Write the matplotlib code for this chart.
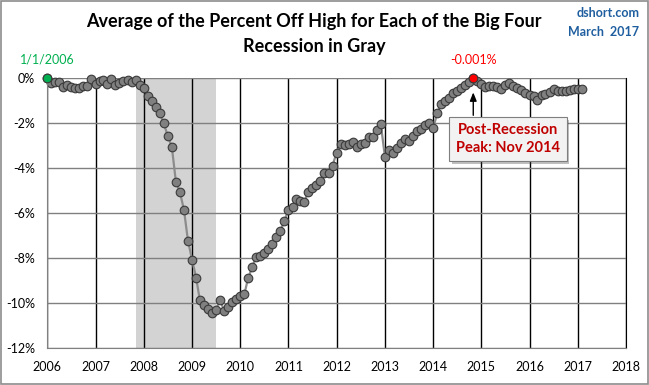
import matplotlib
matplotlib.use("Agg")
import matplotlib.pyplot as plt
import matplotlib.patheffects as pe
from matplotlib.patches import Rectangle
import pandas as pd

# percent off high, monthly averages
v2006 = [0.0, -0.23, -0.18, -0.21, -0.42, -0.33, -0.43, -0.47, -0.46, -0.38, -0.35, -0.05]
v2007 = [-0.26, -0.15, -0.10, -0.29, -0.05, -0.31, -0.23, -0.13, -0.08, -0.18, -0.10, -0.33]
v2008 = [-0.45, -0.83, -1.02, -1.29, -1.58, -2.03, -2.59, -3.07, -4.64, -5.08, -5.88, -7.24]
v2009 = [-8.09, -8.89, -9.89, -10.13, -10.29, -10.47, -10.32, -9.88, -10.37, -10.22, -9.98, -9.84]
v2010 = [-9.69, -9.64, -8.93, -8.43, -7.96, -7.92, -7.80, -7.60, -7.38, -7.07, -6.80, -6.37]
v2011 = [-5.88, -5.73, -5.40, -5.48, -5.51, -5.07, -4.89, -4.77, -4.59, -4.25, -4.25, -3.91]
v2012 = [-3.33, -2.94, -3.01, -2.93, -2.86, -3.09, -2.95, -2.89, -2.64, -2.62, -2.32, -2.07]
v2013 = [-3.52, -3.20, -3.35, -3.14, -2.89, -2.74, -2.81, -2.58, -2.38, -2.30, -2.08, -2.00]
v2014 = [-2.25, -1.58, -1.17, -1.03, -0.88, -0.68, -0.60, -0.45, -0.32, -0.17, -0.001, -0.15]
v2015 = [-0.28, -0.40, -0.37, -0.37, -0.40, -0.50, -0.33, -0.22, -0.37, -0.44, -0.55, -0.66]
v2016 = [-0.78, -0.82, -1.00, -0.75, -0.70, -0.62, -0.51, -0.60, -0.60, -0.60, -0.53, -0.50]
v2017 = [-0.51, -0.48]

start_date = "2006-01-01"
peak_date = "2014-11-01"
recession = ("2007-11-01", "2009-07-01")
year_ticks = list(range(2006, 2019))
y_ticks = [0, -2, -4, -6, -8, -10, -12]

values = v2006 + v2007 + v2008 + v2009 + v2010 + v2011 + v2012 + v2013 + v2014 + v2015 + v2016 + v2017
dates = pd.date_range(start_date, periods=len(values), freq="MS")
series = pd.Series(values, index=dates)

plt.rcParams['font.family'] = ['Lato', 'DejaVu Sans']

fig = plt.figure(figsize=(6.49, 3.85), dpi=100)
ax = fig.add_axes([0.0729, 0.0974, 0.8917, 0.7006])

# recession shading
ax.axvspan(pd.Timestamp(recession[0]), pd.Timestamp(recession[1]), color="#d3d3d3", zorder=0.2, lw=0)

mk = dict(marker="o", markersize=6.2, markeredgecolor="#3a3a3a", markeredgewidth=0.8, clip_on=False)
ax.plot(series.index, series.values, color="#8c8c8c", lw=1.6, zorder=2, markerfacecolor="#808080", **mk)

# first point and peak
ax.plot(series.index[:1], series.values[:1], ls="none", markerfacecolor="#00b050", zorder=3, **mk)
pk = pd.Timestamp(peak_date)
ax.plot([pk], [series[pk]], ls="none", markerfacecolor="#ff0000", zorder=3, **mk)

ax.annotate("1/1/2006", (series.index[0], series.values[0]), xytext=(0, 13), textcoords="offset points",
            ha="center", va="center", color="#00b050", fontsize=9)
ax.annotate("%.3f%%" % series[pk], (pk, series[pk]), xytext=(0, 13), textcoords="offset points",
            ha="center", va="center", color="#ff0000", fontsize=9)

# arrow to peak
ax.annotate("", xy=(pk, series[pk]), xytext=(0, -27), textcoords="offset points",
            arrowprops=dict(arrowstyle="-|>,head_length=0.5,head_width=0.2", color="black", lw=1.0,
                            shrinkA=0, shrinkB=10.5), zorder=4)

t = ax.text(0.796, 0.773, "Post-Recession\nPeak: Nov 2014", transform=ax.transAxes, ha="center", va="center",
            color="#c00000", fontsize=10.5, fontweight="bold", linespacing=1.3, zorder=5,
            bbox=dict(boxstyle="square,pad=0.45", facecolor="#f2f2f2", edgecolor="#7f7f7f", lw=0.8))
t.get_bbox_patch().set_path_effects([pe.SimplePatchShadow(offset=(2, -2), alpha=0.35), pe.Normal()])

ax.set_xlim(pd.Timestamp("2006-01-01"), pd.Timestamp("2018-01-01"))
ax.set_ylim(-12, 0)
ax.set_xticks([pd.Timestamp("%d-01-01" % y) for y in year_ticks])
ax.set_xticklabels([str(y) for y in year_ticks])
ax.set_yticks(y_ticks)
ax.set_yticklabels(["%d%%" % y for y in y_ticks])
ax.tick_params(length=0, labelsize=9)
ax.tick_params(axis="x", pad=10)
ax.tick_params(axis="y", pad=9)

ax.set_axisbelow(True)
ax.xaxis.grid(True, color="black", lw=1.0)
ax.yaxis.grid(True, color="#808080", lw=1.0)
ax.spines["top"].set_visible(False)
ax.spines["left"].set_color("#808080")
ax.spines["bottom"].set_color("#808080")
ax.spines["right"].set_color("black")

fig.text(0.484, 0.943, "Average of the Percent Off High for Each of the Big Four", ha="center", va="center",
         fontsize=13, fontweight="bold")
fig.text(0.484, 0.88, "Recession in Gray", ha="center", va="center", fontsize=13, fontweight="bold")
fig.text(0.985, 0.966, "dshort.com", ha="right", va="center", fontsize=9, color="#1f5f9f", fontweight="bold")
fig.text(0.985, 0.916, "March  2017", ha="right", va="center", fontsize=9, color="#1f5f9f", fontweight="bold")

fig.patches.append(Rectangle((0.001, 0.002), 0.997, 0.996, transform=fig.transFigure, fill=False,
                             edgecolor="#8c8c8c", lw=1.2))

fig.savefig("out.png", dpi=100)
